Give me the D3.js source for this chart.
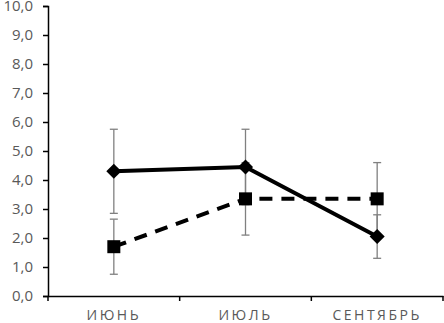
<!DOCTYPE html>
<html>
<head>
<meta charset="utf-8">
<script src="https://cdn.jsdelivr.net/npm/d3@7"></script>
<style>
	body { margin: 0; background: #fff; }
	svg text { font-family: 'Open Sans', 'Liberation Sans', sans-serif; fill: #595959; }
</style>
</head>
<body>
<div id="chart"></div>
<script>
// Chart data
const months = [ 'ИЮНЬ', 'ИЮЛЬ', 'СЕНТЯБРЬ' ];
const solidValues = [ 4.3, 4.45, 2.05 ];
const solidErrors = [ 1.45, 1.3, 0.75 ];
const dashedValues = [ 1.7, 3.35, 3.35 ];
const dashedErrors = [ 0.95, 1.25, 1.25 ];
const yTicks = [ 0, 1, 2, 3, 4, 5, 6, 7, 8, 9, 10 ];

const width = 444;
const height = 323;
const margin = { top: 6, right: 1, bottom: 27, left: 48 };

const svg = d3.select( '#chart' )
	.append( 'svg' )
	.attr( 'width', width )
	.attr( 'height', height );

const x = d3.scaleBand()
	.domain( months )
	.range( [ margin.left, width - margin.right ] );

const y = d3.scaleLinear()
	.domain( [ 0, 10 ] )
	.range( [ height - margin.bottom, margin.top ] );

const fmt = ( d ) => d3.format( '.1f' )( d ).replace( '.', ',' );

// y axis
const yAxis = svg.append( 'g' )
	.attr( 'transform', `translate(${ margin.left },0)` )
	.call( d3.axisLeft( y ).tickValues( yTicks ).tickFormat( fmt ).tickSize( 5 ).tickPadding( 10 ) );
yAxis.select( '.domain' ).attr( 'stroke', '#000' ).attr( 'stroke-width', 1.5 );
yAxis.selectAll( '.tick line' ).attr( 'stroke', '#000' ).attr( 'stroke-width', 1.5 );
yAxis.selectAll( 'text' ).style( 'font-size', '15px' ).attr( 'fill', '#595959' );

// x axis
const xAxis = svg.append( 'g' )
	.attr( 'transform', `translate(0,${ y( 0 ) })` )
	.call( d3.axisBottom( x ).tickSize( 0 ).tickFormat( '' ) );
xAxis.select( '.domain' ).attr( 'stroke', '#000' ).attr( 'stroke-width', 1.5 );

const bounds = [ x.range()[ 0 ] ].concat( months.map( ( m ) => x( m ) + x.bandwidth() ) );
xAxis.selectAll( 'line.sep' )
	.data( bounds )
	.enter()
	.append( 'line' )
	.attr( 'x1', ( d ) => d )
	.attr( 'x2', ( d ) => d )
	.attr( 'y1', 0 )
	.attr( 'y2', 5 )
	.attr( 'stroke', '#000' )
	.attr( 'stroke-width', 1.5 );

xAxis.selectAll( 'text.month' )
	.data( months )
	.enter()
	.append( 'text' )
	.attr( 'class', 'month' )
	.attr( 'x', ( d ) => x( d ) + x.bandwidth() / 2 )
	.attr( 'y', 24 )
	.attr( 'text-anchor', 'middle' )
	.style( 'font-size', '14px' )
	.style( 'letter-spacing', '2.5px' )
	.text( ( d ) => d );

const cx = ( i ) => x( months[ i ] ) + x.bandwidth() / 2;

// error bars
function drawErrors( values, errors ) {
	const g = svg.append( 'g' );
	values.forEach( ( v, i ) => {
		const top = y( v + errors[ i ] );
		const bot = y( v - errors[ i ] );
		g.append( 'line' )
			.attr( 'x1', cx( i ) ).attr( 'x2', cx( i ) )
			.attr( 'y1', top ).attr( 'y2', bot )
			.attr( 'stroke', '#808080' ).attr( 'stroke-width', 1.3 );
		[ top, bot ].forEach( ( yy ) => {
			g.append( 'line' )
				.attr( 'x1', cx( i ) - 4 ).attr( 'x2', cx( i ) + 4 )
				.attr( 'y1', yy ).attr( 'y2', yy )
				.attr( 'stroke', '#808080' ).attr( 'stroke-width', 1.3 );
		} );
	} );
}

drawErrors( dashedValues, dashedErrors );
drawErrors( solidValues, solidErrors );

const line = d3.line()
	.x( ( d, i ) => cx( i ) )
	.y( ( d ) => y( d ) );

// dashed series
svg.append( 'path' )
	.datum( dashedValues )
	.attr( 'd', line )
	.attr( 'fill', 'none' )
	.attr( 'stroke', '#000' )
	.attr( 'stroke-width', 4 )
	.attr( 'stroke-dasharray', '13,9' );

svg.selectAll( 'rect.sq' )
	.data( dashedValues )
	.enter()
	.append( 'rect' )
	.attr( 'class', 'sq' )
	.attr( 'x', ( d, i ) => cx( i ) - 6.5 )
	.attr( 'y', ( d ) => y( d ) - 6.5 )
	.attr( 'width', 13 )
	.attr( 'height', 13 )
	.attr( 'fill', '#000' );

// solid series
svg.append( 'path' )
	.datum( solidValues )
	.attr( 'd', line )
	.attr( 'fill', 'none' )
	.attr( 'stroke', '#000' )
	.attr( 'stroke-width', 4 );

svg.selectAll( 'path.dia' )
	.data( solidValues )
	.enter()
	.append( 'path' )
	.attr( 'class', 'dia' )
	.attr( 'd', d3.symbol( d3.symbolDiamond2, 145 ) )
	.attr( 'transform', ( d, i ) => `translate(${ cx( i ) },${ y( d ) })` )
	.attr( 'fill', '#000' );
</script>
</body>
</html>
